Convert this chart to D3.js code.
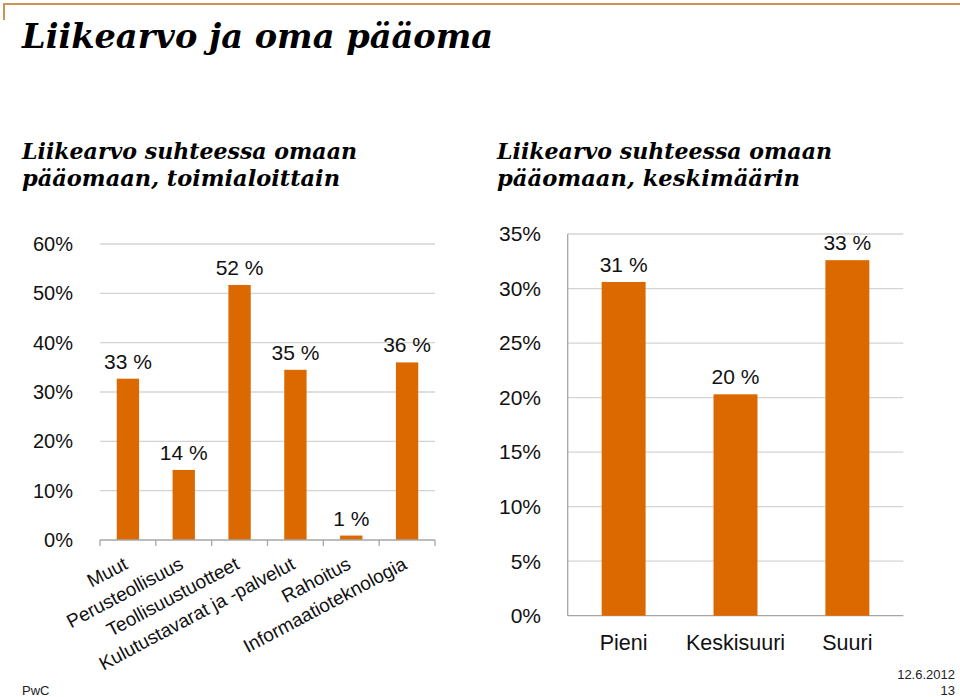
<!DOCTYPE html>
<html><head><meta charset="utf-8">
<script src="https://cdnjs.cloudflare.com/ajax/libs/d3/7.8.5/d3.min.js"></script>
<style>body{margin:0;background:#fff}svg{display:block}</style>
</head><body>
<script>
const industries = ["Muut","Perusteollisuus","Teollisuustuotteet","Kulutustavarat ja -palvelut","Rahoitus","Informaatioteknologia"];
const industryValues = [0.327,0.142,0.517,0.345,0.009,0.36];
const industryLabels = ["33 %","14 %","52 %","35 %","1 %","36 %"];
const leftTicks = [0,0.1,0.2,0.3,0.4,0.5,0.6];
const sizes = ["Pieni","Keskisuuri","Suuri"];
const sizeValues = [0.306,0.203,0.326];
const sizeLabels = ["31 %","20 %","33 %"];
const rightTicks = [0,0.05,0.1,0.15,0.2,0.25,0.3,0.35];

const W=960,H=697;
const orange="#dc6900", grid="#d4d4d4", axisC="#a6a6a6";
const sans="Liberation Sans, Arial, sans-serif";
const serif="DejaVu Serif, Georgia, serif";
const svg=d3.select("body").append("svg").attr("width",W).attr("height",H);

// frame line
svg.append("path").attr("d","M4,20V4H960").attr("fill","none").attr("stroke","#cf9354").attr("stroke-width",2);

svg.append("text").attr("x",22).attr("y",48).text("Liikearvo ja oma pääoma")
  .attr("font-family",serif).attr("font-weight","bold").attr("font-style","italic").attr("font-size",34)
  .attr("textLength",471).attr("lengthAdjust","spacingAndGlyphs");
function sub(x,lines,widths){
  lines.forEach((l,i)=>svg.append("text").attr("x",x).attr("y",159+i*27).text(l)
   .attr("font-family",serif).attr("font-weight","bold").attr("font-style","italic").attr("font-size",22)
   .attr("textLength",widths[i]).attr("lengthAdjust","spacingAndGlyphs"));
}
sub(22,["Liikearvo suhteessa omaan","pääomaan, toimialoittain"],[335,318]);
sub(497,["Liikearvo suhteessa omaan","pääomaan, keskimäärin"],[335,303]);

// Left chart
const xL=d3.scaleBand().domain(industries).range([100,435]).paddingInner(0.6).paddingOuter(0.3);
const yL=d3.scaleLinear().domain([0,0.6]).range([540,244]);
const gL=svg.append("g");
gL.selectAll("line.g").data(leftTicks.filter(d=>d>0)).join("line")
  .attr("x1",100).attr("x2",435).attr("y1",d=>yL(d)).attr("y2",d=>yL(d)).attr("stroke",grid).attr("stroke-width",1.3);
gL.selectAll("text.yt").data(leftTicks).join("text").attr("x",73).attr("y",d=>yL(d)).attr("dy","0.35em")
  .attr("text-anchor","end").attr("font-family",sans).attr("font-size",20).attr("fill","#111").text(d=>Math.round(d*100)+"%");
gL.selectAll("rect").data(industryValues).join("rect")
  .attr("x",(d,i)=>xL(industries[i])).attr("width",xL.bandwidth())
  .attr("y",d=>yL(d)).attr("height",d=>yL(0)-yL(d)).attr("fill",orange);
gL.selectAll("text.lab").data(industryValues).join("text")
  .attr("x",(d,i)=>xL(industries[i])+xL.bandwidth()/2).attr("y",d=>yL(d)-10)
  .attr("text-anchor","middle").attr("font-family",sans).attr("font-size",21).attr("fill","#111").text((d,i)=>industryLabels[i]);
// bottom axis with ticks at band edges
const step=(435-100)/industries.length;
gL.append("line").attr("x1",100).attr("x2",435).attr("y1",540).attr("y2",540).attr("stroke",axisC).attr("stroke-width",1.3);
gL.selectAll("line.t").data(d3.range(industries.length+1)).join("line")
  .attr("x1",i=>100+i*step).attr("x2",i=>100+i*step).attr("y1",540).attr("y2",546).attr("stroke",axisC).attr("stroke-width",1.3);
gL.selectAll("text.xl").data(industries).join("text")
  .attr("transform",d=>`translate(${xL(d)+xL.bandwidth()/2+1},568) rotate(-28)`)
  .attr("text-anchor","end").attr("font-family",sans).attr("font-size",19).attr("fill","#111").text(d=>d);

// Right chart
const xR=d3.scaleBand().domain(sizes).range([567.7,903.3]).paddingInner(0.607).paddingOuter(0.3035);
const yR=d3.scaleLinear().domain([0,0.35]).range([615.7,234]);
const gR=svg.append("g");
gR.selectAll("line.g").data(rightTicks.filter(d=>d>0)).join("line")
  .attr("x1",567.7).attr("x2",903.3).attr("y1",d=>yR(d)).attr("y2",d=>yR(d)).attr("stroke",grid).attr("stroke-width",1.3);
gR.append("line").attr("x1",567.7).attr("x2",567.7).attr("y1",234).attr("y2",615.7).attr("stroke",axisC).attr("stroke-width",1.3);
gR.append("line").attr("x1",567.7).attr("x2",903.3).attr("y1",615.7).attr("y2",615.7).attr("stroke",axisC).attr("stroke-width",1.3);
gR.selectAll("text.yt").data(rightTicks).join("text").attr("x",541).attr("y",d=>yR(d)).attr("dy","0.35em")
  .attr("text-anchor","end").attr("font-family",sans).attr("font-size",21).attr("fill","#111").text(d=>Math.round(d*100)+"%");
gR.selectAll("rect").data(sizeValues).join("rect")
  .attr("x",(d,i)=>xR(sizes[i])).attr("width",xR.bandwidth())
  .attr("y",d=>yR(d)).attr("height",d=>yR(0)-yR(d)).attr("fill",orange);
gR.selectAll("text.lab").data(sizeValues).join("text")
  .attr("x",(d,i)=>xR(sizes[i])+xR.bandwidth()/2).attr("y",d=>yR(d)-10)
  .attr("text-anchor","middle").attr("font-family",sans).attr("font-size",21).attr("fill","#111").text((d,i)=>sizeLabels[i]);
gR.selectAll("text.xl").data(sizes).join("text")
  .attr("x",d=>xR(d)+xR.bandwidth()/2).attr("y",650)
  .attr("text-anchor","middle").attr("font-family",sans).attr("font-size",21.5).attr("fill","#111").text(d=>d);

// footer
svg.append("text").attr("x",22).attr("y",695).attr("font-family",sans).attr("font-size",13).attr("fill","#222").text("PwC");
svg.append("text").attr("x",955).attr("y",679).attr("text-anchor","end").attr("font-family",sans).attr("font-size",13).attr("fill","#222").text("12.6.2012");
svg.append("text").attr("x",955).attr("y",695).attr("text-anchor","end").attr("font-family",sans).attr("font-size",13).attr("fill","#222").text("13");
</script>
</body></html>
